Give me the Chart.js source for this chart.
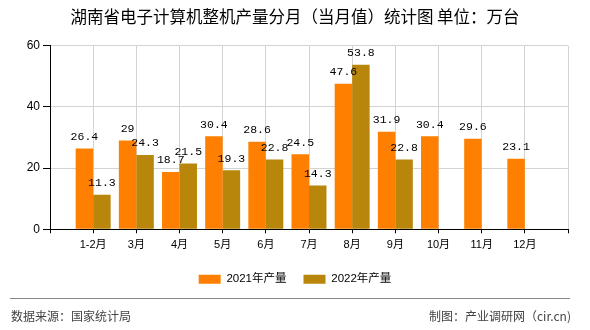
<!DOCTYPE html>
<html lang="zh-CN">
<head>
<meta charset="utf-8">
<title>湖南省电子计算机整机产量分月（当月值）统计图</title>
<script src="https://cdn.jsdelivr.net/npm/chart.js@4/dist/chart.umd.min.js"></script>
<style>
  html, body { margin: 0; padding: 0; background: #fff; }
  #wrap { width: 590px; height: 330px; }
</style>
</head>
<body>
<div id="wrap"><canvas id="chart" width="590" height="330"></canvas></div>
<script>
const months = ["1-2月", "3月", "4月", "5月", "6月", "7月", "8月", "9月", "10月", "11月", "12月"];
const output2021 = [26.4, 29, 18.7, 30.4, 28.6, 24.5, 47.6, 31.9, 30.4, 29.6, 23.1];
const output2022 = [11.3, 24.3, 21.5, 19.3, 22.8, 14.3, 53.8, 22.8, null, null, null];
const yTicks = [0, 20, 40, 60];

const CJK = '"Liberation Sans", "Noto Sans CJK SC", sans-serif';

// empty slot on each side so the months sit on the grid lines
const labels = ["", ...months, ""];
const pad = (arr) => [null, ...arr, null];

// value text above every bar
const valueLabels = {
  id: "valueLabels",
  afterDatasetsDraw(chart) {
    const ctx = chart.ctx;
    ctx.save();
    ctx.font = '11.5px "Liberation Mono", "DejaVu Sans Mono", monospace';
    ctx.fillStyle = "#000";
    ctx.textAlign = "center";
    ctx.textBaseline = "bottom";
    chart.data.datasets.forEach((ds, i) => {
      chart.getDatasetMeta(i).data.forEach((bar, j) => {
        const v = ds.data[j];
        if (v == null) return;
        ctx.fillText(String(v), bar.x, bar.y - 6);
      });
    });
    ctx.restore();
  },
};

// separator line and source notes at the bottom
const footer = {
  id: "footer",
  afterDraw(chart) {
    const ctx = chart.ctx;
    ctx.save();
    ctx.strokeStyle = "#888";
    ctx.lineWidth = 1;
    ctx.beginPath();
    ctx.moveTo(10, 298.5);
    ctx.lineTo(570, 298.5);
    ctx.stroke();
    ctx.font = '12px "Noto Sans CJK SC", sans-serif';
    ctx.fillStyle = "#444";
    ctx.textBaseline = "middle";
    ctx.textAlign = "left";
    ctx.fillText("数据来源：国家统计局", 11, 316);
    ctx.textAlign = "right";
    ctx.fillText("制图：产业调研网（cir.cn)", 571, 316);
    ctx.restore();
  },
};

new Chart(document.getElementById("chart"), {
  type: "bar",
  data: {
    labels,
    datasets: [
      {
        label: "2021年产量",
        data: pad(output2021),
        backgroundColor: "#ff8000",
        categoryPercentage: 0.81,
        barPercentage: 1,
      },
      {
        label: "2022年产量",
        data: pad(output2022),
        backgroundColor: "#b8860b",
        categoryPercentage: 0.81,
        barPercentage: 1,
      },
    ],
  },
  options: {
    responsive: false,
    animation: false,
    layout: { padding: { left: 22, right: 22, top: 0, bottom: 35 } },
    plugins: {
      title: {
        display: true,
        text: "湖南省电子计算机整机产量分月（当月值）统计图 单位：万台",
        color: "#000",
        font: { family: '"Noto Sans CJK SC", sans-serif', size: 16.5, weight: "normal" },
        padding: { top: 7, bottom: 19 },
      },
      legend: {
        position: "bottom",
        labels: {
          boxWidth: 22,
          boxHeight: 9,
          padding: 17,
          color: "#000",
          font: { family: CJK, size: 11.5 },
        },
      },
      tooltip: { enabled: false },
    },
    scales: {
      x: {
        offset: false,
        grid: { offset: false, color: "#d3d3d3", tickColor: "#000", tickLength: 4 },
        border: { color: "#000" },
        ticks: { color: "#000", padding: 5, autoSkip: false, maxRotation: 0, font: { family: CJK, size: 11 } },
      },
      y: {
        min: yTicks[0],
        max: yTicks[yTicks.length - 1],
        afterBuildTicks: (scale) => { scale.ticks = yTicks.map((v) => ({ value: v })); },
        grid: { color: "#d3d3d3", tickColor: "#000", tickLength: 7 },
        border: { color: "#000" },
        ticks: { color: "#000", padding: 3, font: { family: CJK, size: 12 } },
        afterFit: (scale) => { scale.width = 28; },
      },
    },
  },
  plugins: [valueLabels, footer],
});
</script>
</body>
</html>
